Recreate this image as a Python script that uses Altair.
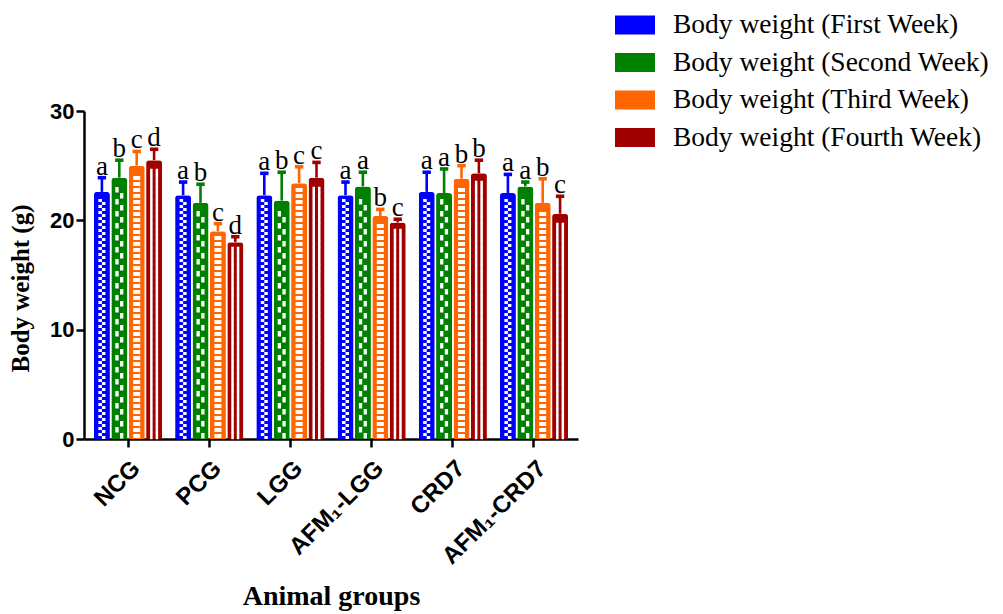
import altair as alt
import pandas as pd

groups = ["NCG", "PCG", "LGG", "AFM₁-LGG", "CRD7", "AFM₁-CRD7"]
weeks = ["Body weight (First Week)", "Body weight (Second Week)",
         "Body weight (Third Week)", "Body weight (Fourth Week)"]
colors = ["#0000ff", "#008000", "#ff6600", "#a00000"]

mean_w1 = [22.6, 22.3, 22.3, 22.3, 22.6, 22.5]
mean_w2 = [23.9, 21.6, 21.8, 23.1, 22.5, 23.1]
mean_w3 = [25.0, 19.0, 23.4, 20.4, 23.8, 21.6]
mean_w4 = [25.5, 18.0, 23.9, 19.8, 24.3, 20.6]

sd_w1 = [1.3, 1.2, 2.0, 1.2, 1.8, 1.7]
sd_w2 = [1.6, 1.7, 2.6, 1.3, 2.2, 0.4]
sd_w3 = [1.3, 0.7, 1.5, 0.6, 1.2, 2.2]
sd_w4 = [1.0, 0.5, 1.4, 0.3, 1.2, 1.6]

letters_w1 = ["a", "a", "a", "a", "a", "a"]
letters_w2 = ["b", "b", "b", "a", "a", "a"]
letters_w3 = ["c", "c", "c", "b", "b", "b"]
letters_w4 = ["d", "d", "c", "c", "b", "c"]

means = [mean_w1, mean_w2, mean_w3, mean_w4]
sds = [sd_w1, sd_w2, sd_w3, sd_w4]
letters = [letters_w1, letters_w2, letters_w3, letters_w4]

rows = []
for k, w in enumerate(weeks):
    for i, g in enumerate(groups):
        rows.append({"group": g, "week": w, "value": means[k][i],
                     "top": round(means[k][i] + sds[k][i], 2),
                     "letter": letters[k][i]})
df = pd.DataFrame(rows)

# ---- fill patterns (pure styling, drawn inside each bar) ----
PLOT_W, PLOT_H, YMAX = 494, 328, 30
PX = PLOT_H / YMAX  # pixels per unit
patterns = [
    (6, "M-3.5,-3H0V0H-3.5Z M0,0H3.5V3H0Z"),
    (12, "M-4,-6H-0.7V-0.5H-4Z M0.7,0H4V5.5H0.7Z"),
    (6, "M-3.5,-2H3.5V2H-3.5Z"),
    (6, "M-4,-3.25H-1.5V3.25H-4Z M1.5,-3.25H4V3.25H1.5Z"),
]
pat_rows = []
for k, w in enumerate(weeks):
    cell = patterns[k][0] / PX
    for i, g in enumerate(groups):
        c = cell / 2
        while c + cell / 2 <= means[k][i] - 3.5 / PX:
            pat_rows.append({"group": g, "week": w, "yc": c})
            c += cell
pat = pd.DataFrame(pat_rows)

X = alt.X("group:N", sort=groups,
          scale=alt.Scale(domain=groups, paddingInner=0.16, paddingOuter=0.122),
          axis=alt.Axis(title="Animal groups", labelAngle=-45,
                        labelFont="Liberation Sans", labelFontWeight="bold",
                        labelFontSize=24, labelColor="black", labelPadding=9,
                        labelAlign="right", labelBaseline="top",
                        titleFont="Liberation Serif", titleFontSize=28,
                        titleFontWeight="bold", titleColor="black", titlePadding=14,
                        domainColor="black", domainWidth=2.5, tickColor="black",
                        tickWidth=2.5, tickSize=8))
XO = alt.XOffset("week:N", sort=weeks,
                 scale=alt.Scale(domain=weeks, paddingInner=0.08, paddingOuter=0))
yaxis = alt.Axis(title="Body weight (g)", values=[0, 10, 20, 30],
                 labelFont="Liberation Sans", labelFontWeight="bold",
                 labelFontSize=22, labelColor="black", labelPadding=2,
                 titleFont="Liberation Serif", titleFontSize=25,
                 titleFontWeight="bold", titleColor="black", titlePadding=16,
                 titleY=177,
                 domainColor="black", domainWidth=2.5, tickColor="black",
                 tickWidth=2.5, tickSize=8, grid=False)
yscale = alt.Scale(domain=[0, YMAX], nice=False)
legend = alt.Legend(title=None, orient="none", legendX=531, legendY=-106,
                    symbolType="M-1,-0.475H1V0.475H-1Z", symbolSize=1600,
                    symbolStrokeWidth=0, symbolOpacity=1,
                    labelFont="Liberation Serif", labelFontSize=27.5,
                    labelColor="black", labelLimit=500, labelOffset=18,
                    rowPadding=3.5, padding=0)
COLOR = alt.Color("week:N", sort=weeks,
                  scale=alt.Scale(domain=weeks, range=colors), legend=legend)

base = alt.Chart(df)
bars = base.mark_bar(cornerRadiusTopLeft=3, cornerRadiusTopRight=3).encode(
    x=X, xOffset=XO, y=alt.Y("value:Q", scale=yscale, axis=yaxis), color=COLOR)

pat_layers = []
for k, w in enumerate(weeks):
    sub = pat[pat["week"] == w]
    pat_layers.append(
        alt.Chart(sub).mark_point(shape=patterns[k][1], size=4, filled=True,
                                  color="white", opacity=1, strokeWidth=0)
        .encode(x=X, xOffset=XO,
                y=alt.Y("yc:Q", scale=yscale, axis=yaxis)))

err = base.mark_rule(strokeWidth=2.6).encode(
    x=X, xOffset=XO, y=alt.Y("value:Q", scale=yscale, axis=yaxis),
    y2="top:Q", color=COLOR)
caps = base.mark_point(shape="M-4.2,-1.8H4.2V1.8H-4.2Z", size=4, filled=True,
                       opacity=1, strokeWidth=0).encode(
    x=X, xOffset=XO, y=alt.Y("top:Q", scale=yscale, axis=yaxis), color=COLOR)
labels = base.mark_text(font="Liberation Serif", fontSize=27,
                        baseline="alphabetic", dy=-3, color="black").encode(
    x=X, xOffset=XO, y=alt.Y("top:Q", scale=yscale, axis=yaxis), text="letter:N")

chart = alt.layer(bars, *pat_layers, err, caps, labels).properties(
    width=PLOT_W, height=PLOT_H,
    autosize=alt.AutoSizeParams(type="none"),
    padding={"left": 76, "top": 103, "right": 417, "bottom": 175},
    background="white",
).configure_view(stroke=None)

chart.save("out.html", embed_options={"renderer": "svg", "actions": False})
